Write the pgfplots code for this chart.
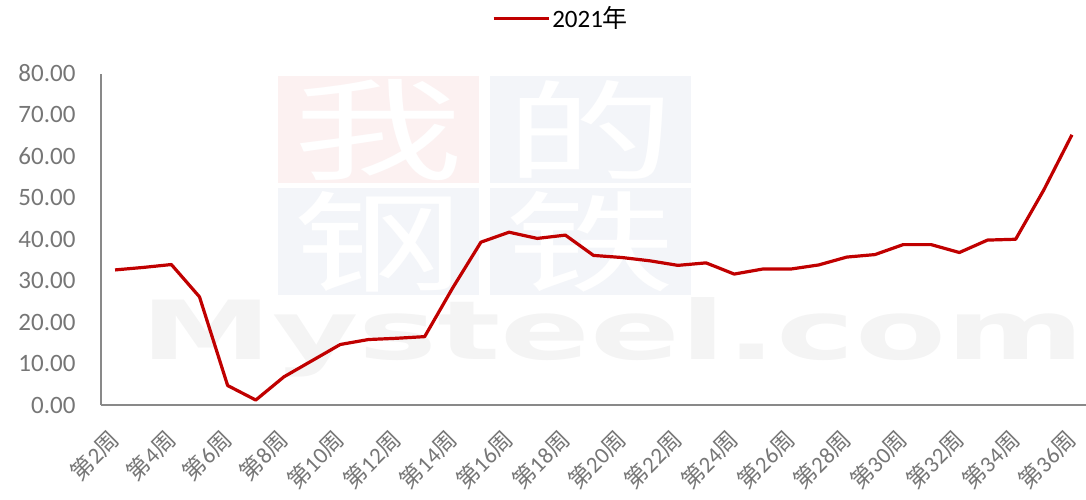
\documentclass[border=0pt]{standalone}
\usepackage{pgfplots}
\pgfplotsset{compat=1.18}
\usepackage{fontspec}
\setmainfont{Carlito}
\newfontfamily\cjk{Noto Sans CJK SC}
\newfontfamily\wm{DejaVu Sans}
\definecolor{linered}{HTML}{C00000}
\definecolor{tickgray}{HTML}{767676}
\definecolor{axgray}{HTML}{898989}
\definecolor{wmpink}{HTML}{FCF1F1}
\definecolor{wmblue}{HTML}{F3F5F9}
\definecolor{wmgray}{HTML}{F4F4F4}
\newcommand{\wk}[1]{{\cjk 第}#1{\cjk 周}}
\begin{document}
\begin{tikzpicture}
\useasboundingbox (-101pt,-94pt) rectangle (985pt,405pt);
% watermark
\fill[wmpink] (177pt,222pt) rectangle (378pt,329pt);
\fill[wmblue] (389pt,222pt) rectangle (590pt,329pt);
\fill[wmblue] (177pt,110pt) rectangle (378pt,217pt);
\fill[wmblue] (389pt,110pt) rectangle (590pt,217pt);
\node[text=white, inner sep=0] at (277pt,275pt) {\resizebox{170pt}{92pt}{\cjk 我}};
\node[text=white, inner sep=0] at (489pt,275pt) {\resizebox{170pt}{92pt}{\cjk 的}};
\node[text=white, inner sep=0] at (277pt,163pt) {\resizebox{170pt}{92pt}{\cjk 钢}};
\node[text=white, inner sep=0] at (489pt,163pt) {\resizebox{170pt}{92pt}{\cjk 铁}};
\node[anchor=base west, inner sep=0, text=wmgray] at (39pt,46pt) {\resizebox{944pt}{62pt}{\wm\bfseries Mysteel.com}};
\begin{axis}[
  scale only axis,
  width=985pt, height=331.5pt,
  xmin=1.5, xmax=36.5,
  ymin=0, ymax=80,
  axis x line=bottom, axis y line=left,
  axis line style={draw=axgray, line width=1.2pt, -},
  major tick length=0pt,
  ytick={0,10,...,80},
  xtick={2,4,...,36},
  xticklabels={\wk{2},\wk{4},\wk{6},\wk{8},\wk{10},\wk{12},\wk{14},\wk{16},\wk{18},\wk{20},\wk{22},\wk{24},\wk{26},\wk{28},\wk{30},\wk{32},\wk{34},\wk{36}},
  /pgf/number format/assume math mode=true,
  /pgf/number format/.cd, fixed, fixed zerofill, precision=2, /pgfplots/.cd,
  yticklabel style={font=\fontsize{25}{30}\selectfont, text=tickgray, anchor=east, xshift=-22pt},
  xticklabel style={font=\fontsize{23}{27}\selectfont, text=tickgray, rotate=45, anchor=east, inner sep=0pt},
  xticklabel shift=30pt,
  legend style={at={(rel axis cs:0.467,1.167)}, anchor=center, draw=none, fill=none,
    font=\fontsize{25}{30}\selectfont, legend cell align=left},
  legend image code/.code={\draw[#1] (0pt,0pt) -- (55pt,0pt);},
]
\addplot[linered, line width=3.2pt, line join=round] coordinates {
(2,32.6) (3,33.2) (4,33.9) (5,26.1) (6,4.7) (7,1.2) (8,6.8) (9,10.7) (10,14.6)
(11,15.8) (12,16.1) (13,16.5) (14,28.3) (15,39.3) (16,41.7) (17,40.2) (18,41.0)
(19,36.1) (20,35.6) (21,34.8) (22,33.7) (23,34.3) (24,31.6) (25,32.8) (26,32.8)
(27,33.8) (28,35.7) (29,36.3) (30,38.7) (31,38.7) (32,36.8) (33,39.8) (34,40.0)
(35,51.9) (36,65.2)
};
\addlegendentry{2021{\cjk 年}}
\end{axis}
\end{tikzpicture}
\end{document}
